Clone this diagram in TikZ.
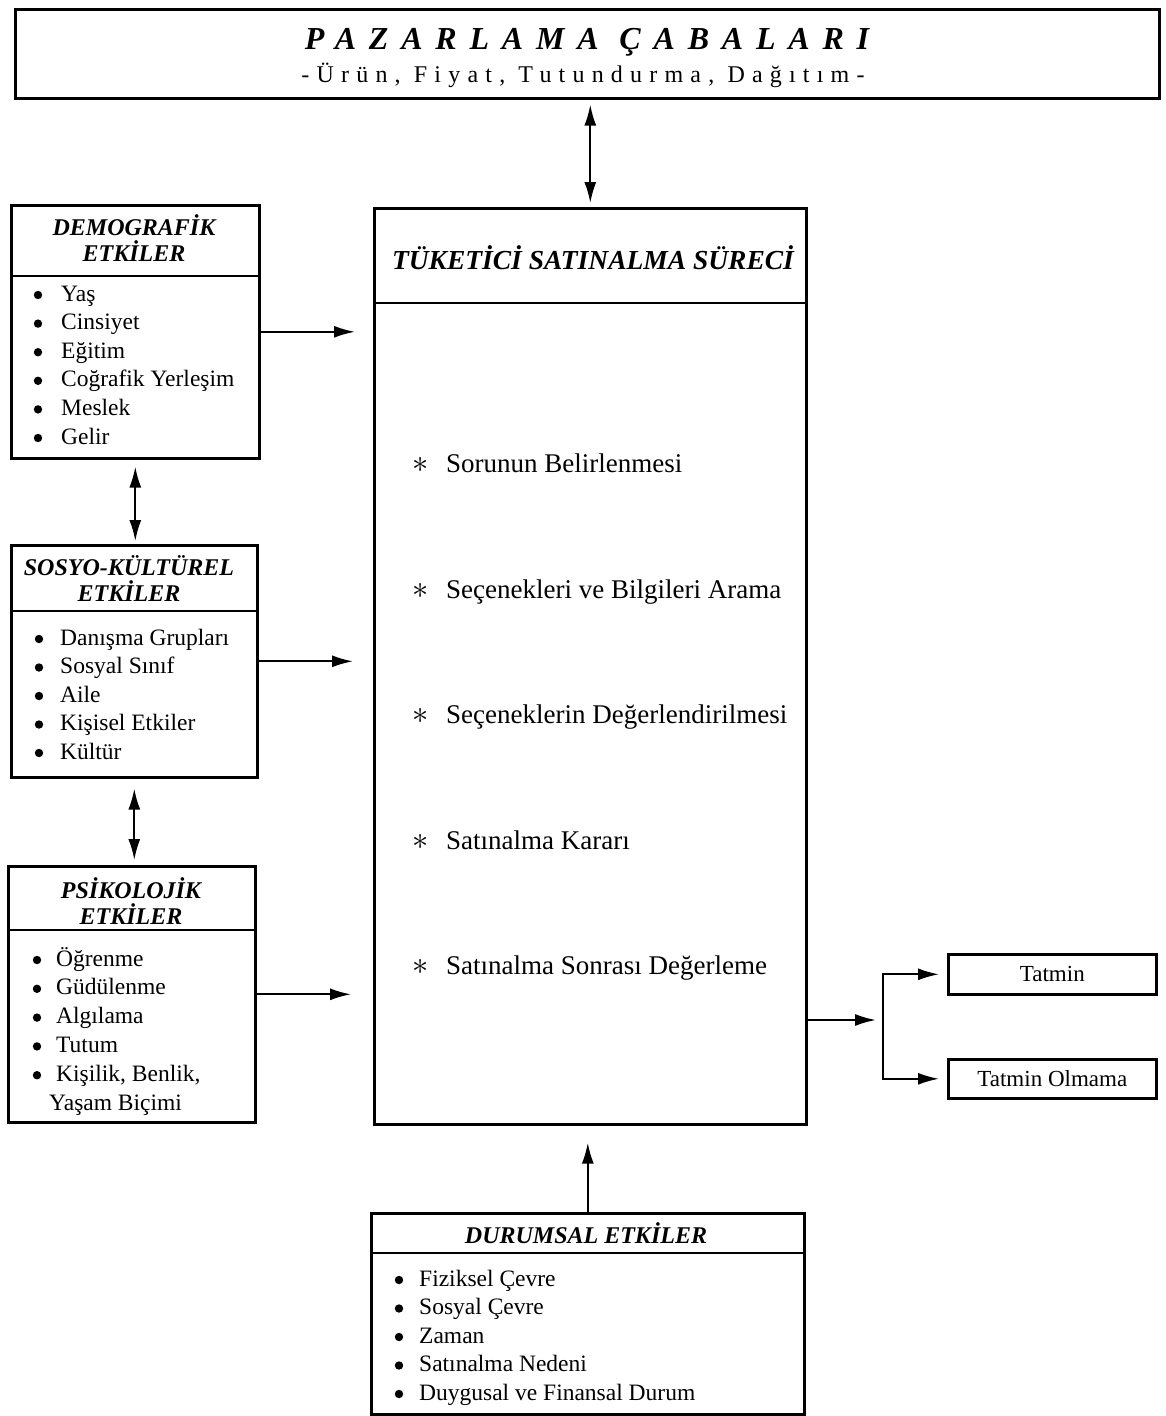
\documentclass[tikz,border=0pt]{standalone}
\usepackage{fontspec}
\setmainfont{Liberation Serif}
\usetikzlibrary{arrows.meta,positioning}

\begin{document}
\begin{tikzpicture}[
        x=1pt,y=-1pt,
        box/.style={
          draw,
          line width=2.6pt,
          inner sep=0pt,
          anchor=north west
        },
        sepline/.style={line width=1.2pt},
        head/.style={
          align=center,
          inner sep=0pt,
          font=\fontsize{24}{26}\selectfont\bfseries\itshape
        },
        item/.style={
          anchor=west,
          inner sep=0pt,
          text height=20pt,
          text depth=2pt,
          font=\fontsize{23.5}{28}\selectfont
        },
        dot/.style={radius=4.2pt},
        stage/.style={
          anchor=west,
          inner sep=0pt,
          text height=24pt,
          text depth=5pt,
          font=\fontsize{27}{30}\selectfont
        },
        arr/.style={line width=2pt,-{Latex[length=21pt,width=12pt]}},
        dbl/.style={line width=2pt,{Latex[length=21pt,width=12pt]}-{Latex[length=21pt,width=12pt]}}
        ]
        \useasboundingbox (0,0) rectangle (1165,1416);

        \node[box,minimum width=1144,minimum height=89] (pazar) at (14,8) {};
        \node[inner sep=0pt,font=\fontsize{32}{34}\selectfont\bfseries\itshape\addfontfeatures{LetterSpace=40}] 
          (pazartitle) at (587,42) {PAZARLAMA\ ÇABALARI};
        \node[inner sep=0pt,font=\fontsize{24}{26}\selectfont\addfontfeatures{LetterSpace=30}] 
          (pazarsub) at (583,75) {-Ürün, Fiyat, Tutundurma, Dağıtım-};

        \node[box,minimum width=432,minimum height=916] (main) at (373,207) {};
        \draw[sepline] (main.north west) ++(0,96) -- ++(432,0);
        \node[head,font=\fontsize{27.5}{30}\selectfont\bfseries\itshape] 
          (maintitle) at (593,258) {TÜKETİCİ SATINALMA SÜRECİ};
        \foreach \t [count=\i] in {Sorunun Belirlenmesi,Seçenekleri ve Bilgileri Arama,
            Seçeneklerin Değerlendirilmesi,Satınalma Kararı,Satınalma Sonrası Değerleme}
          \node[stage] (stage\i) at (412,{463+(\i-1)*125.5}) {\makebox[34pt][l]{\scalebox{1.3}{$\ast$}}\t};

        \node[box,minimum width=248,minimum height=253] (demo) at (10,204) {};
        \draw[sepline] (demo.north west) ++(0,72) -- ++(248,0);
        \node[head] (demotitle) at (134,238) {DEMOGRAFİK\\ETKİLER};
        \foreach \t [count=\i] in {Yaş,Cinsiyet,Eğitim,Coğrafik Yerleşim,Meslek,Gelir}{
          \node[item] (demo\i) at (61,{292+(\i-1)*28.6}) {\t};
          \fill[dot] (demo\i.west) ++(-23,3) circle;
        }

        \node[box,minimum width=246,minimum height=232] (sosyo) at (10,544) {};
        \draw[sepline] (sosyo.north west) ++(0,67) -- ++(246,0);
        \node[head] (sosyotitle) at (129,579) {SOSYO-KÜLTÜREL\\ETKİLER};
        \foreach \t [count=\i] in {Danışma Grupları,Sosyal Sınıf,Aile,Kişisel Etkiler,Kültür}{
          \node[item] (sosyo\i) at (60,{636+(\i-1)*28.5}) {\t};
          \fill[dot] (sosyo\i.west) ++(-21,3) circle;
        }

        \node[box,minimum width=247,minimum height=256] (psiko) at (7,865) {};
        \draw[sepline] (psiko.north west) ++(0,65) -- ++(247,0);
        \node[head] (psikotitle) at (131,901) {PSİKOLOJİK\\ETKİLER};
        \foreach \t [count=\i] in {Öğrenme,Güdülenme,Algılama,Tutum,{Kişilik, Benlik,}}{
          \node[item] (psiko\i) at (56,{957+(\i-1)*28.8}) {\t};
          \fill[dot] (psiko\i.west) ++(-19,3) circle;
        }
        \node[item] (psiko6) at (49,1101) {Yaşam Biçimi};

        \node[box,minimum width=433,minimum height=201] (durum) at (370,1212) {};
        \draw[sepline] (durum.north west) ++(0,41) -- ++(433,0);
        \node[head] (durumtitle) at (586,1233) {DURUMSAL ETKİLER};
        \foreach \t [count=\i] in {Fiziksel Çevre,Sosyal Çevre,Zaman,Satınalma Nedeni,Duygusal ve Finansal Durum}{
          \node[item] (durum\i) at (419,{1277+(\i-1)*28.5}) {\t};
          \fill[dot] (durum\i.west) ++(-20,3) circle;
        }

        \node[box,minimum width=208,minimum height=40,font=\fontsize{23}{25}\selectfont] 
          (tatmin) at (947,953) {Tatmin};
        \node[box,minimum width=208,minimum height=39,font=\fontsize{23}{25}\selectfont] 
          (olmama) at (947,1058) {Tatmin Olmama};

        \coordinate (fork) at (883,1020);

        \draw[dbl,shorten <=5pt,shorten >=4pt] (main.north |- pazar.south) -- (main.north);
        \draw[dbl,shorten <=7pt,shorten >=3pt] (demo.south) -- (demo.south |- sosyo.north);
        \draw[dbl,shorten <=10pt,shorten >=5pt] (sosyo.south) -- (sosyo.south |- psiko.north);
        \draw[arr,shorten >=18pt] (demo.east) -- (demo.east -| main.west);
        \draw[arr,shorten >=20pt] (sosyo.east) -- (sosyo.east -| main.west);
        \draw[arr,shorten >=22pt] (psiko.east) -- (psiko.east -| main.west);
        \draw[arr,shorten >=17pt] (durum.north) -- (durum.north |- main.south);
        \draw[arr,shorten >=7pt] (main.east |- fork) -- (fork);
        \draw[arr,shorten >=8pt] (fork) |- (tatmin.west);
        \draw[arr,shorten >=8pt] (fork) |- (olmama.west);
\end{tikzpicture}
\end{document}
